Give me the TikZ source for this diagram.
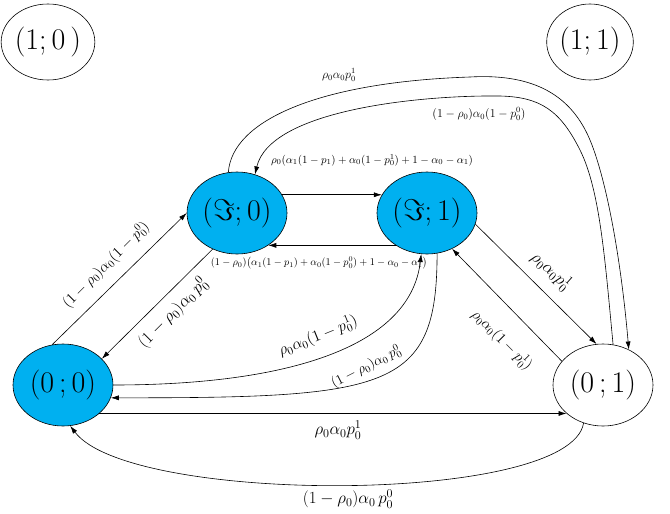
\RequirePackage{fix-cm}
\documentclass[tikz,border=0pt]{standalone}
\usetikzlibrary{shapes.geometric,arrows.meta}
\definecolor{sky}{RGB}{0,176,240}
\begin{document}
\begin{tikzpicture}[x=1pt,y=-1pt,
 state/.style={ellipse,draw,line width=0.6pt,inner sep=0pt,minimum width=100pt,minimum height=82pt,font=\fontsize{30}{30}\selectfont},
 hot/.style={state,fill=sky},
 iso/.style={ellipse,draw,line width=0.6pt,inner sep=0pt,minimum width=80pt,minimum height=76pt,font=\fontsize{30}{30}\selectfont},
 tr/.style={draw,line width=0.6pt,-{Latex[length=8pt,width=5pt]}},
 lab/.style={font=\fontsize{#1}{#1}\selectfont,inner sep=1pt}]
\useasboundingbox (0,0) rectangle (670,514);
\node[iso] (n10) at (48,42) {$(1;0\,)$};
\node[iso] (n11) at (590,42) {$(1;1)$};
\node[hot] (i0) at (237,213) {$(\Im;0)$};
\node[hot] (i1) at (427,213) {$(\Im;1)$};
\node[hot] (z0) at (63,385) {$(0\,;0)$};
\node[state] (z1) at (603,385) {$(0\,;1)$};

\draw[tr] (i0.22) -- (i1.158);
\draw[tr] (i1.226) -- (i0.-46);
\draw[tr] (z0.105) -- (i0.180);
\draw[tr] (i0.236) -- (z0.34);
\draw[tr] (z0.east) .. controls (280,385) and (410,350) .. (i1.262);
\draw[tr] (i1.284) .. controls (437,390) and (390,398) .. (z0.-15);
\draw[tr] (z0.-38) -- (z1.218);
\draw[tr] (z1.243) .. controls (570,505) and (130,505) .. (z0.280);
\draw[tr] (i1.-13) -- (z1.99);
\draw[tr] (z1.150) -- (i1.-55);
\draw[tr] (i0.102) .. controls (232,120) and (320,82) .. (470,77)
   .. controls (540,73) and (575,100) .. (592,145)
   .. controls (609,190) and (622,270) .. (z1.54);
\draw[tr] (z1.76) .. controls (605,260) and (600,190) .. (580,150)
   .. controls (560,110) and (540,97) .. (500,96)
   .. controls (420,95) and (270,110) .. (i0.65);

\node[lab=12] (la) at (339,75) {$\rho_0\alpha_0p_0^1$};
\node[lab=12] (lb) at (479,114) {$(1-\rho_0)\alpha_0(1-p_0^0)$};
\node[lab=11] (lc) at (372,160) {$\rho_0\bigl(\alpha_1(1-p_1)+\alpha_0(1-p_0^1)+1-\alpha_0-\alpha_1\bigr)$};
\node[lab=10.3] (ld) at (319,263) {$(1-\rho_0)\bigl(\alpha_1(1-p_1)+\alpha_0(1-p_0^0)+1-\alpha_0-\alpha_1\bigr)$};
\node[lab=15,rotate=45] (le) at (106,265) {$(1-\rho_0)\alpha_0(1-p_0^0)$};
\node[lab=17,rotate=45] (lf) at (173,313) {$(1-\rho_0)\alpha_0\,p_0^0$};
\node[lab=16,rotate=22] (lg) at (318,336) {$\rho_0\alpha_0(1-p_0^1)$};
\node[lab=14,rotate=27] (lh) at (366,367) {$(1-\rho_0)\alpha_0\,p_0^0$};
\node[lab=17] (li) at (338,430) {$\rho_0\alpha_0p_0^1$};
\node[lab=17] (lj) at (348,499) {$(1-\rho_0)\alpha_0\,p_0^0$};
\node[lab=17,rotate=-42] (lk) at (551,271) {$\rho_0\alpha_0p_0^1$};
\node[lab=15,rotate=-45] (ll) at (502,340) {$\rho_0\alpha_0(1-p_0^1)$};
\end{tikzpicture}
\end{document}
